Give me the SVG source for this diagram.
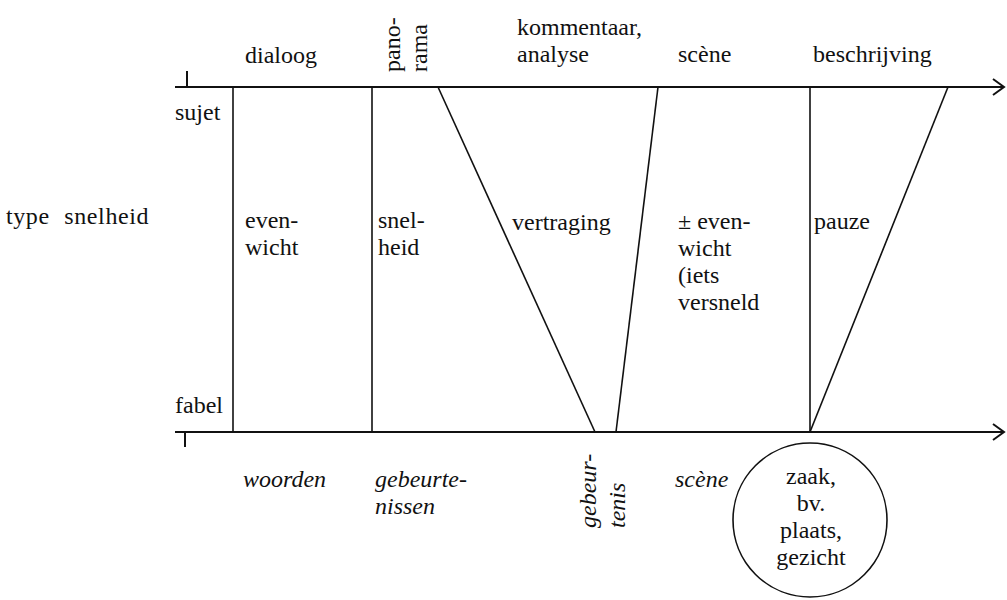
<svg xmlns="http://www.w3.org/2000/svg" width="1007" height="600" viewBox="0 0 1007 600">
<style>
text{font-family:'Liberation Serif','DejaVu Serif',serif;font-size:24px;fill:#111}
.it{font-style:italic}
.ln{stroke:#111;stroke-width:1.6;fill:none}
.ax{stroke:#111;stroke-width:2;fill:none}
.mid{text-anchor:middle}
</style>
<rect width="1007" height="600" fill="#fff"/>
<g id="connectors">
<line class="ax" x1="175" y1="87" x2="1004" y2="87"/>
<polyline class="ax" points="993,79 1004,87 993,95"/>
<line class="ax" x1="187" y1="71" x2="187" y2="87"/>
<line class="ax" x1="175" y1="432" x2="1004" y2="432"/>
<polyline class="ax" points="993,424 1004,432 993,440"/>
<line class="ax" x1="185" y1="432" x2="185" y2="447"/>
<line class="ln" x1="233" y1="87" x2="233" y2="432"/>
<line class="ln" x1="372" y1="87" x2="372" y2="432"/>
<line class="ln" x1="438" y1="87" x2="595" y2="432"/>
<line class="ln" x1="658" y1="87" x2="616" y2="432"/>
<line class="ln" x1="810" y1="87" x2="810" y2="432"/>
<line class="ln" x1="948" y1="87" x2="810" y2="432"/>
</g>
<g id="axis-labels">
<text x="175" y="120">sujet</text>
<text x="175" y="413">fabel</text>
<text x="6" y="224" style="word-spacing:8px;letter-spacing:0.6px">type snelheid</text>
</g>
<g id="col-dialoog">
<text x="245" y="63">dialoog</text>
<text x="245" y="228">even-</text>
<text x="245" y="255">wicht</text>
<text class="it" x="243" y="487">woorden</text>
</g>
<g id="col-panorama">
<text transform="translate(400,72) rotate(-90)">pano-</text>
<text transform="translate(427,72) rotate(-90)">rama</text>
<text x="378" y="228">snel-</text>
<text x="378" y="255">heid</text>
<text class="it" x="375" y="487">gebeurte-</text>
<text class="it" x="375" y="514">nissen</text>
</g>
<g id="col-kommentaar">
<text x="517" y="35">kommentaar,</text>
<text x="517" y="62">analyse</text>
<text x="512" y="230">vertraging</text>
<text class="it" transform="translate(596,528) rotate(-90)">gebeur-</text>
<text class="it" transform="translate(625,528) rotate(-90)">tenis</text>
</g>
<g id="col-scene">
<text x="678" y="62">scène</text>
<text x="678" y="229">± even-</text>
<text x="678" y="256">wicht</text>
<text x="678" y="283">(iets</text>
<text x="678" y="310">versneld</text>
<text class="it" x="675" y="487">scène</text>
</g>
<g id="col-beschrijving">
<text x="813" y="62">beschrijving</text>
<text x="814" y="229">pauze</text>
<circle class="ln" cx="810" cy="520" r="77"/>
<text class="mid" x="811" y="484">zaak,</text>
<text class="mid" x="811" y="511">bv.</text>
<text class="mid" x="811" y="538">plaats,</text>
<text class="mid" x="811" y="565">gezicht</text>
</g>
</svg>
